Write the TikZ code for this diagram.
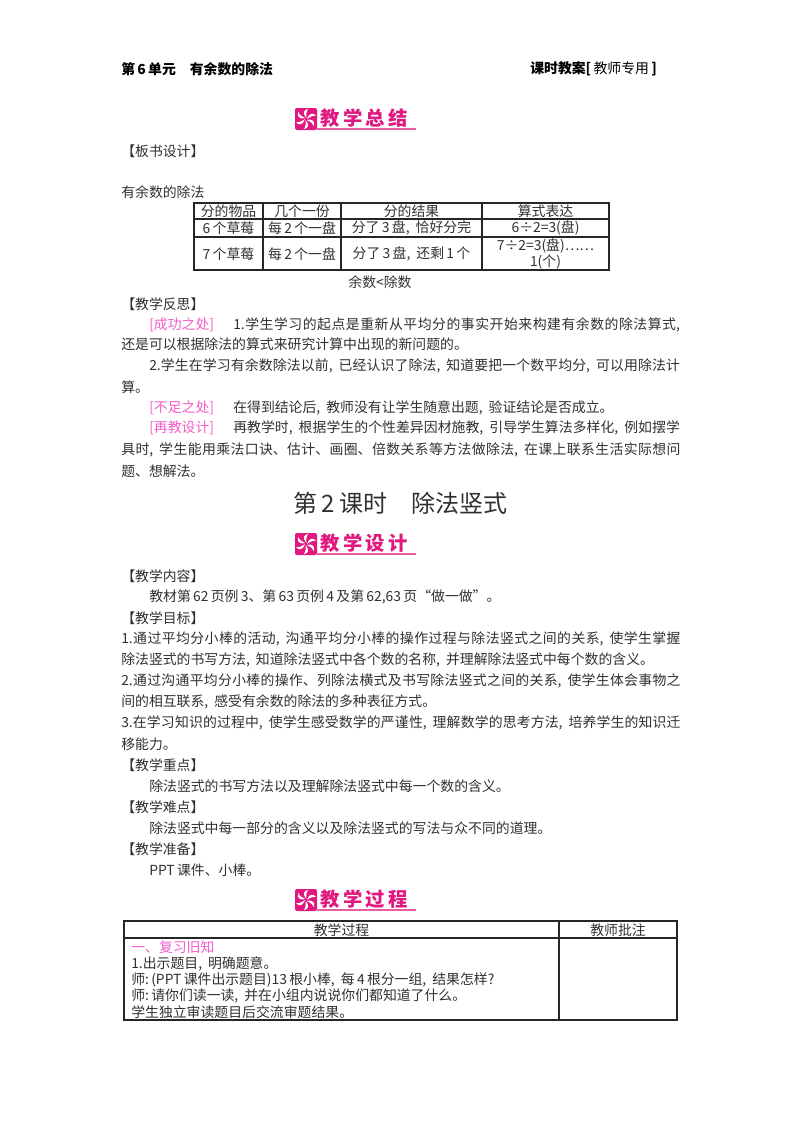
\documentclass[tikz,border=0pt]{standalone}
\usepackage{fontspec}
\setmainfont{Noto Sans CJK SC}
\newfontfamily\bannerfont[LetterSpace=18]{Noto Sans CJK SC}
\usetikzlibrary{positioning, calc}
\definecolor{bannerpink}{HTML}{E0187F}
\definecolor{notepink}{HTML}{F45CC8}
\definecolor{inkgray}{HTML}{303030}
\XeTeXlinebreaklocale "zh"
\XeTeXlinebreakskip=0pt plus 1pt
\newcommand{\cma}{,\hspace{4.5pt}}
\tikzset{
    textline/.style={
        anchor=west,
        inner sep=0pt,
        text=inkgray,
        font=\fontsize{10.4pt}{12pt}\selectfont
    },
    fullline/.style={
        textline,
        text width=419.5pt,
        align=justify,
        execute at begin node={\parfillskip=0pt\relax}
    },
    notemark/.style={
        textline,
        text=notepink
    },
    headline/.style={
        textline,
        text=black,
        font=\fontsize{10.4pt}{12pt}\selectfont\bfseries
    },
    cell/.style={
        anchor=center,
        inner sep=0pt,
        text=inkgray,
        align=center,
        font=\fontsize{10.4pt}{12.4pt}\selectfont
    },
    bannertext/.style={
        anchor=west,
        inner sep=0pt,
        text=bannerpink,
        font=\bannerfont\fontsize{14.5pt}{15pt}\selectfont\bfseries
    },
    tableline/.style={
        draw=black!85,
        line width=0.9pt
    }
}
\begin{document}
\begin{tikzpicture}[x=0.75pt, y=-0.75pt]
    \useasboundingbox (0,0) rectangle (800,1132);

    % Page header
    \node[headline] (unit) at (121,69) {第\,6\,单元\quad 有余数的除法};
    \node[headline] (plan) at (530,69) {课时教案[\textmd{\,教师专用\,}]};

    % Section banners
    \foreach \ypos/\txt in {119/教学总结, 544/教学设计, 900/教学过程} {
        \fill[bannerpink, rounded corners=1.5pt] (295,\ypos-11) rectangle (317,\ypos+11);
        \draw[bannerpink!70, line width=0.8pt] (317,\ypos+10) -- (416,\ypos+10);
        \foreach \a in {0,60,...,300} {
            \fill[white, shift={(306,\ypos)}, rotate=\a]
                (1,0) .. controls (3,-6) and (7,-7) .. (10,-3)
                .. controls (7,-4) and (4,-2) .. cycle;
        }
        \node[bannertext] (banner\ypos) at (320,\ypos-1) {\txt};
    }

    % Board design
    \node[textline] (board) at (121,151) {【板书设计】};
    \node[textline] (boardtitle) at (121,192) {有余数的除法};

    % Board table
    \draw[tableline] (194,203) rectangle (609,270);
    \draw[tableline] (194,219) -- (609,219);
    \draw[tableline] (194,237) -- (609,237);
    \foreach \x in {263,341,482} {
        \draw[tableline] (\x,203) -- (\x,270);
    }
    \node[cell] (c11) at (228.5,211) {分的物品};
    \node[cell] (c12) at (302,211) {几个一份};
    \node[cell] (c13) at (411.5,211) {分的结果};
    \node[cell] (c14) at (545.5,211) {算式表达};
    \node[cell] (c21) at (228.5,228) {6\,个草莓};
    \node[cell] (c22) at (302,228) {每\,2\,个一盘};
    \node[cell] (c23) at (411.5,228) {分了\,3\,盘\cma 恰好分完};
    \node[cell] (c24) at (545.5,228) {6÷2=3(盘)};
    \node[cell] (c31) at (228.5,254) {7\,个草莓};
    \node[cell] (c32) at (302,254) {每\,2\,个一盘};
    \node[cell] (c33) at (411.5,254) {分了\,3\,盘\cma 还剩\,1\,个};
    \node[cell] (c34) at (545.5,254) {7÷2=3(盘)……\\1(个)};
    \node[cell] (rule) at (380,282) {余数<除数};

    % Reflection
    \node[textline] (reflect) at (121,304) {【教学反思】};
    \node[notemark] (good) at (149,325) {[成功之处]};
    \node[fullline, text width=335pt] (r1) at (233,325) {1.学生学习的起点是重新从平均分的事实开始来构建有余数的除法算式,};
    \node[textline] (r2) at (121,344) {还是可以根据除法的算式来研究计算中出现的新问题的。};
    \node[fullline, text width=398pt] (r3) at (149,366) {2.学生在学习有余数除法以前\cma 已经认识了除法\cma 知道要把一个数平均分\cma 可以用除法计};
    \node[textline] (r4) at (121,387) {算。};
    \node[notemark] (lack) at (149,408) {[不足之处]};
    \node[textline] (r5) at (233,408) {在得到结论后\cma 教师没有让学生随意出题\cma 验证结论是否成立。};
    \node[notemark] (again) at (149,428) {[再教设计]};
    \node[fullline, text width=335pt] (r6) at (233,428) {再教学时\cma 根据学生的个性差异因材施教\cma 引导学生算法多样化\cma 例如摆学};
    \node[fullline] (r7) at (121,450) {具时\cma 学生能用乘法口诀、估计、画圈、倍数关系等方法做除法\cma 在课上联系生活实际想问};
    \node[textline] (r8) at (121,471) {题、想解法。};

    % Lesson title
    \node[cell, font=\fontsize{18pt}{20pt}\selectfont] (lesson) at (400.5,503) {第\,2\,课时\quad 除法竖式};

    % Lesson design
    \node[textline] (content) at (121,576) {【教学内容】};
    \node[textline] (d1) at (149,597) {教材第\,62\,页例\,3、第\,63\,页例\,4\,及第\,62,63\,页“做一做”。};
    \node[textline] (goal) at (121,618) {【教学目标】};
    \node[fullline] (d2) at (121,639) {1.通过平均分小棒的活动\cma 沟通平均分小棒的操作过程与除法竖式之间的关系\cma 使学生掌握};
    \node[textline] (d3) at (121,660) {除法竖式的书写方法\cma 知道除法竖式中各个数的名称\cma 并理解除法竖式中每个数的含义。};
    \node[fullline] (d4) at (121,681) {2.通过沟通平均分小棒的操作、列除法横式及书写除法竖式之间的关系\cma 使学生体会事物之};
    \node[textline] (d5) at (121,702) {间的相互联系\cma 感受有余数的除法的多种表征方式。};
    \node[fullline] (d6) at (121,723) {3.在学习知识的过程中\cma 使学生感受数学的严谨性\cma 理解数学的思考方法\cma 培养学生的知识迁};
    \node[textline] (d7) at (121,744) {移能力。};
    \node[textline] (key) at (121,765) {【教学重点】};
    \node[textline] (d8) at (149,786) {除法竖式的书写方法以及理解除法竖式中每一个数的含义。};
    \node[textline] (hard) at (121,807) {【教学难点】};
    \node[textline] (d9) at (149,828) {除法竖式中每一部分的含义以及除法竖式的写法与众不同的道理。};
    \node[textline] (prep) at (121,849) {【教学准备】};
    \node[textline] (d10) at (149,870) {PPT\,课件、小棒。};

    % Process table
    \draw[tableline] (124,921) rectangle (677,1020);
    \draw[tableline] (124,938) -- (677,938);
    \draw[tableline] (559,921) -- (559,1020);
    \node[cell] (processhead) at (341.5,930) {教学过程};
    \node[cell] (notehead) at (618,930) {教师批注};
    \node[notemark] (review) at (131,947) {一、复习旧知};
    \node[textline] (p1) at (131,964) {1.出示题目\cma 明确题意。};
    \node[textline] (p2) at (131,980) {师:\,(PPT\,课件出示题目)13\,根小棒\cma 每\,4\,根分一组\cma 结果怎样?};
    \node[textline] (p3) at (131,996) {师:\,请你们读一读\cma 并在小组内说说你们都知道了什么。};
    \node[textline] (p4) at (131,1012) {学生独立审读题目后交流审题结果。};

\end{tikzpicture}
\end{document}
